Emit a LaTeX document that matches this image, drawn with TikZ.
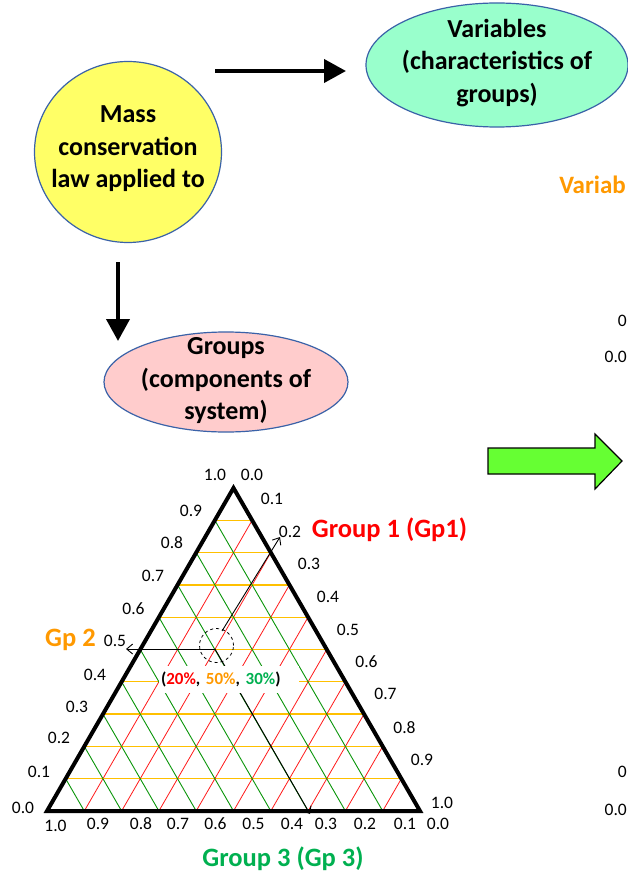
\documentclass[tikz,border=0pt]{standalone}
\usepackage{fontspec}
\setmainfont{Carlito}
\usetikzlibrary{calc,arrows.meta,shapes.geometric}
\definecolor{ellyellow}{HTML}{FFFF66}
\definecolor{ellgreen}{HTML}{99FFCC}
\definecolor{ellpink}{HTML}{FFCCCC}
\definecolor{ellborder}{HTML}{3A62A8}
\definecolor{gpred}{HTML}{FF0000}
\definecolor{gporange}{HTML}{FF9900}
\definecolor{gpgreen}{HTML}{00B050}
\definecolor{gridgreen}{HTML}{0A960A}
\definecolor{gridred}{HTML}{FF1A1A}
\definecolor{gridorange}{HTML}{FFC000}
\definecolor{blockgreen}{HTML}{66FF33}
\tikzset{
  bubble/.style={ellipse, draw=ellborder, line width=1.2pt, inner sep=0pt},
  bubbletext/.style={align=center, inner sep=0pt, font=\fontsize{26}{32.5}\selectfont\bfseries},
  bigarrow/.style={line width=4pt, -{Triangle[length=22pt,width=23pt]}},
  thinarrow/.style={line width=0.9pt, -{Straight Barb[length=6pt,width=10pt]}},
  tick/.style={font=\fontsize{17.5}{20}\selectfont, inner sep=0pt},
  grplabel/.style={font=\fontsize{26.5}{30}\selectfont\bfseries, inner sep=0pt, anchor=base},
}
\begin{document}
\begin{tikzpicture}[x=1pt,y=-1pt]
\useasboundingbox (0,0) rectangle (628,877);
\fill[white] (0,0) rectangle (628,877);

% bubbles
\node[bubble, fill=ellyellow, minimum width=187pt, minimum height=181pt] (mass) at (128,152) {};
\node[bubbletext] (masstext) at (128,149) {Mass\\conservation\\law applied to};
\node[bubble, fill=ellgreen, minimum width=262pt, minimum height=124pt] (vars) at (497,65) {};
\node[bubbletext] (varstext) at (497,63) {Variables\\(characteristics of\\groups)};
\node[bubble, fill=ellpink, minimum width=244pt, minimum height=100pt] (groups) at (226,382) {};
\node[bubbletext] (groupstext) at (226,381) {Groups\\(components of\\system)};

% black arrows
\coordinate (h1) at (215,71);
\coordinate (h2) at (346,71);
\draw[bigarrow] (h1) -- (h2);
\coordinate (v1) at (118,262);
\coordinate (v2) at (118,341);
\draw[bigarrow] (v1) -- (v2);

% green block arrow
\draw[fill=blockgreen, line width=1.2pt, line join=miter]
  (488,448) -- (595,448) -- (595,434) -- (622,461) -- (595,489) -- (595,474) -- (488,474) -- cycle;

% ternary diagram
\coordinate (BL) at (47,811);
\coordinate (BR) at (420,811);
\coordinate (A) at (233.5,488);
\foreach \k in {1,...,9}{
  \draw[gridgreen, line width=0.9pt] ($(BL)!{\k/10}!(BR)$) -- ($(BL)!{\k/10}!(A)$);
  \draw[gridred, line width=0.8pt] ($(BL)!{\k/10}!(BR)$) -- ($(A)!{\k/10}!(BR)$);
  \draw[gridorange, line width=1.3pt] ($(BL)!{\k/10}!(A)$) -- ($(BR)!{\k/10}!(A)$);
}
\draw[line width=4pt, line join=miter] (BL) -- (BR) -- (A) -- cycle;

% point and reading arrows
\coordinate (P) at (215,649);
\coordinate (g2e) at (126,649);
\coordinate (g1s) at (222,631);
\coordinate (g1e) at (280,537);
\coordinate (g3e) at (310,814);
\draw[thinarrow] (P) -- (g2e);
\draw[thinarrow] (P) -- (g3e);
\draw[thinarrow] (g1s) -- (g1e);
\node[circle, draw, dashed, line width=0.8pt, minimum size=34pt, inner sep=0pt] (circ) at (216.5,645.5) {};
\node[fill=white, text width=136pt, align=left, inner xsep=2pt, inner ysep=0pt, minimum height=27pt,
  font=\fontsize{17}{20}\selectfont\bfseries] (pt) at (229,679)
  {(\textcolor{gpred}{20\%}, \textcolor{gporange}{50\%}, \textcolor{gpgreen}{30\%})};

% left tick labels (Gp 2)
\node[tick] (l10) at (215,475) {1.0};
\node[tick] (l9) at (191,511) {0.9};
\node[tick] (l8) at (172,543) {0.8};
\node[tick] (l7) at (153,576) {0.7};
\node[tick] (l6) at (133.5,609) {0.6};
\node[tick] (l5) at (115,641) {0.5};
\node[tick] (l4) at (95,675) {0.4};
\node[tick] (l3) at (77,706.5) {0.3};
\node[tick] (l2) at (59,738) {0.2};
\node[tick] (l1) at (39,772) {0.1};
\node[tick] (l0) at (23,808) {0.0};
% right tick labels (Gp 1)
\node[tick] (r0) at (252,475) {0.0};
\node[tick] (r1) at (272,499) {0.1};
\node[tick] (r2) at (290,532) {0.2};
\node[tick] (r3) at (309,564) {0.3};
\node[tick] (r4) at (328,597) {0.4};
\node[tick] (r5) at (348,630) {0.5};
\node[tick] (r6) at (366.5,662) {0.6};
\node[tick] (r7) at (385.5,694) {0.7};
\node[tick] (r8) at (404.5,728) {0.8};
\node[tick] (r9) at (422,760) {0.9};
\node[tick] (r10) at (442,803) {1.0};
% bottom tick labels (Gp 3)
\node[tick] (b10) at (55.5,826) {1.0};
\node[tick] (b9) at (98,824) {0.9};
\node[tick] (b8) at (141,824) {0.8};
\node[tick] (b7) at (178,824) {0.7};
\node[tick] (b6) at (215.5,824) {0.6};
\node[tick] (b5) at (253.5,824) {0.5};
\node[tick] (b4) at (292,824) {0.4};
\node[tick] (b3) at (326,824) {0.3};
\node[tick] (b2) at (365,824) {0.2};
\node[tick] (b1) at (405,824) {0.1};
\node[tick] (b0) at (438,824) {0.0};

% group labels
\node[grplabel, text=gpred] (gp1) at (389.5,537) {Group 1 (Gp1)};
\node[grplabel, text=gporange] (gp2) at (70.5,646) {Gp 2};
\node[grplabel, text=gpgreen] (gp3) at (283,866.5) {Group 3 (Gp 3)};

% partially visible content at the right edge
\node[font=\fontsize{25}{30}\selectfont\bfseries, text=gporange, anchor=base east, inner sep=0pt] (varcut) at (626,194) {Variab};
\node[tick, anchor=east] (c1) at (627,321) {0};
\node[tick, anchor=east] (c2) at (627,357) {0.0};
\node[tick, anchor=east] (c3) at (627,772) {0};
\node[tick, anchor=east] (c4) at (627,810) {0.0};
\end{tikzpicture}
\end{document}
